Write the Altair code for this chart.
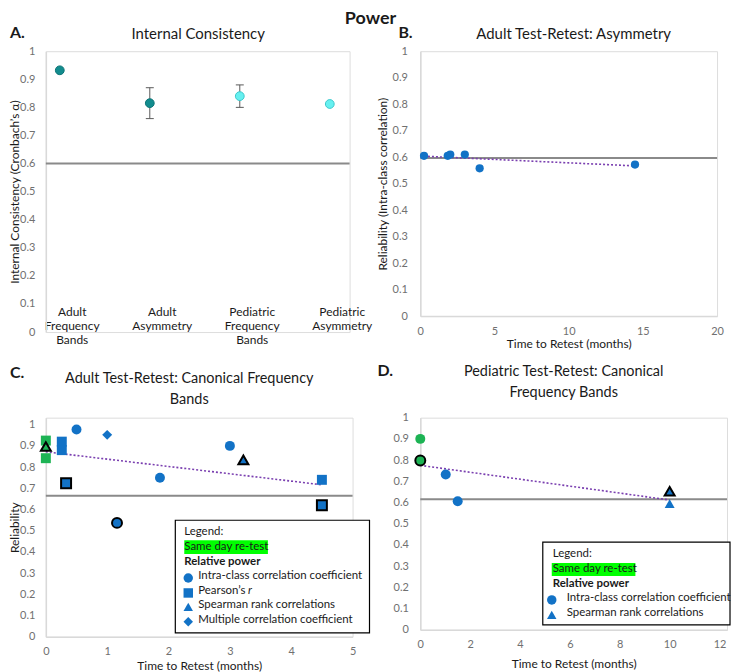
import json
import altair as alt
import pandas as pd

FONT = "Lato"
BLUE = "#1272c6"
GREEN = "#1db354"
TEAL = "#128c8e"
CYAN = "#66f0f0"
PURPLE = "#7a3fb0"
REF_GRAY = "#8a8a8a"
AXIS_GRAY = "#d9d9d9"
TICK_GRAY = "#707070"
TEXT = "#1a1a1a"
HILITE = "#00ff00"

# ---------------- data ----------------
# A. Internal consistency
ic_categories = ["Adult Frequency Bands", "Adult Asymmetry",
                 "Pediatric Frequency Bands", "Pediatric Asymmetry"]
ic_alpha = [0.932, 0.815, 0.840, 0.812]
ic_err_low = [None, 0.760, 0.800, None]
ic_err_high = [None, 0.870, 0.880, None]
ic_population = ["Adult", "Adult", "Pediatric", "Pediatric"]
ic_threshold = 0.6

# B. Adult test-retest: asymmetry
asym_months = [0.25, 1.85, 2.02, 3.0, 4.0, 14.47]
asym_icc = [0.605, 0.605, 0.61, 0.61, 0.558, 0.572]
asym_threshold = 0.597

# C. Adult test-retest: canonical frequency bands
adult_months = [0, 0, 0, 0.26, 0.26, 0.5, 1.0, 3.0, 1.86, 3.22, 0.33, 4.5, 4.5, 1.16]
adult_rel = [0.925, 0.842, 0.897, 0.92, 0.88, 0.977, 0.952, 0.90, 0.75, 0.834,
             0.724, 0.74, 0.62, 0.537]
adult_stat = ["Pearson", "Pearson", "Spearman", "Pearson", "Pearson", "ICC", "Multiple",
              "ICC", "ICC", "Spearman", "Pearson", "Pearson", "Pearson", "ICC"]
adult_same_day = [True, True, True, False, False, False, False, False, False, False,
                  False, False, False, False]
adult_outlined = [False, False, True, False, False, False, False, False, False, True,
                  True, False, True, True]
adult_threshold = 0.665

# D. Pediatric test-retest: canonical frequency bands
ped_months = [0, 0, 1.02, 1.5, 10, 10]
ped_rel = [0.90, 0.798, 0.732, 0.606, 0.653, 0.595]
ped_stat = ["ICC", "ICC", "ICC", "ICC", "Spearman", "Spearman"]
ped_same_day = [True, True, False, False, False, False]
ped_outlined = [False, True, False, False, True, False]
ped_threshold = 0.616

stat_names = ["ICC", "Pearson", "Spearman", "Multiple"]
stat_shapes = ["circle", "square", "triangle-up", "diamond"]
stat_labels = ["Intra-class correlation coefficient", "Pearson’s r",
               "Spearman rank correlations", "Multiple correlation coefficient"]

YVALS = [round(i / 10, 1) for i in range(11)]


# ---------------- helpers ----------------
def one():
    return pd.DataFrame({"k": [0]})


def txt(s, x, y, size=12, weight="normal", align="left", baseline="middle",
        style="normal", color=TEXT):
    return alt.Chart(pd.DataFrame({"t": [s]})).mark_text(
        fontSize=size, fontWeight=weight, align=align, baseline=baseline,
        fontStyle=style, color=color, font=FONT
    ).encode(x=alt.value(x), y=alt.value(y), text="t:N")


def rect(x, x2, y, y2, fill, stroke="transparent", sw=0):
    return alt.Chart(one()).mark_rect(fill=fill, stroke=stroke, strokeWidth=sw, opacity=1).encode(
        x=alt.value(x), x2=alt.value(x2), y=alt.value(y), y2=alt.value(y2))


def symbol(shape, x, y, size=90):
    return alt.Chart(one()).mark_point(shape=shape, filled=True, fill=BLUE, opacity=1,
                                       size=size, strokeWidth=0).encode(
        x=alt.value(x), y=alt.value(y))


def yaxis(title, label_pad, title_pad):
    return alt.Axis(values=YVALS, tickCount=len(YVALS), format="~g", title=title,
                    labelPadding=label_pad,
                    titlePadding=title_pad, domainColor=AXIS_GRAY, domainWidth=1.5,
                    ticks=False, grid=False, labelColor=TICK_GRAY, labelFontSize=11,
                    labelFont=FONT, titleFont=FONT, titleFontSize=12,
                    titleFontWeight="normal", titleColor=TEXT, labelOverlap=False)


def xaxis(values, title, label_pad, title_pad):
    return alt.Axis(values=values, tickCount=len(values), format="~g", title=title,
                    labelPadding=label_pad,
                    titlePadding=title_pad, domainColor=AXIS_GRAY, domainWidth=1.5,
                    ticks=False, grid=False, labelColor=TICK_GRAY, labelFontSize=11,
                    labelFont=FONT, titleFont=FONT, titleFontSize=12,
                    titleFontWeight="normal", titleColor=TEXT, labelFlush=False,
                    labelOverlap=False)


def ref_rule(value, field, W):
    return alt.Chart(pd.DataFrame({field: [value]})).mark_rule(
        color=REF_GRAY, strokeWidth=2).encode(
        y=f"{field}:Q", x=alt.value(0), x2=alt.value(W))


def trend(df, xf, yf):
    return alt.Chart(df).transform_regression(xf, yf).mark_line(
        color=PURPLE, strokeDash=[2, 2], strokeWidth=1.6).encode(
        x=f"{xf}:Q", y=f"{yf}:Q")


def markers(df, xenc, yenc, size):
    enc = dict(
        x=xenc, y=yenc,
        shape=alt.Shape("shape:N", scale=None, legend=None),
        fill=alt.Fill("fillc:N", scale=None, legend=None),
    )
    plain = alt.Chart(df).transform_filter("!datum.outlined").mark_point(
        filled=True, opacity=1, size=size, strokeWidth=0).encode(**enc)
    outl = alt.Chart(df).transform_filter("datum.outlined").mark_point(
        filled=True, opacity=1, size=size, stroke="black", strokeWidth=2).encode(**enc)
    return [plain, outl]


def point_frame(months, rel, stats, same_day, outlined):
    return pd.DataFrame({
        "months": months, "rel": rel, "stat": stats,
        "shape": [stat_shapes[stat_names.index(s)] for s in stats],
        "fillc": [GREEN if s else BLUE for s in same_day],
        "outlined": outlined})


# ---------------- Panel A ----------------
WA, HA = 305, 282
dfA = pd.DataFrame({"idx": [1, 2, 3, 4], "cat": ic_categories, "alpha": ic_alpha,
                    "lo": ic_err_low, "hi": ic_err_high, "pop": ic_population})
dfA["fillc"] = [TEAL if p == "Adult" else CYAN for p in ic_population]
dfA["strokec"] = ["#0d7476" if p == "Adult" else "#3cc8cc" for p in ic_population]
labelExprA = "split(" + json.dumps(ic_categories) + "[datum.value - 1], ' ')"
xA = alt.X("idx:Q", scale=alt.Scale(domain=[0.845, 4.22], nice=False, zero=False),
           axis=alt.Axis(values=[1, 2, 3, 4], tickCount=4, labelExpr=labelExprA,
                         domain=False, ticks=False, tickSize=0, grid=False,
                         labelPadding=-26, labelOffset=12, labelColor=TEXT,
                         labelFontSize=12, labelFont=FONT, labelLineHeight=14.5,
                         labelFlush=False, labelOverlap=False, labelBound=False,
                         title=None))
yA = alt.Y("alpha:Q", scale=alt.Scale(domain=[0, 1], nice=False),
           axis=yaxis("Internal Consistency (Cronbach’s α)", 11, -2))

ptsA = alt.Chart(dfA).mark_point(filled=True, opacity=1, size=78, strokeWidth=1).encode(
    x=xA, y=yA,
    fill=alt.Fill("fillc:N", scale=None, legend=None),
    stroke=alt.Stroke("strokec:N", scale=None, legend=None))
errA = alt.Chart(dfA).transform_filter("isValid(datum.lo)").mark_rule(
    color="#5a5a5a", strokeWidth=1).encode(x="idx:Q", y="lo:Q", y2="hi:Q")
capLoA = alt.Chart(dfA).transform_filter("isValid(datum.lo)").mark_tick(
    orient="horizontal", size=8, thickness=1, color="#5a5a5a", opacity=1).encode(
    x="idx:Q", y="lo:Q")
capHiA = alt.Chart(dfA).transform_filter("isValid(datum.hi)").mark_tick(
    orient="horizontal", size=8, thickness=1, color="#5a5a5a", opacity=1).encode(
    x="idx:Q", y="hi:Q")

panelA = alt.layer(
    ref_rule(ic_threshold, "alpha", WA), errA, capLoA, capHiA, ptsA,
    txt("A.", -36, -18, size=16, weight="bold"),
    txt("Internal Consistency", 153, -17, size=15, align="center"),
).properties(width=WA, height=HA)

# ---------------- Panel B ----------------
WB, HB = 298, 266
dfB = pd.DataFrame({"months": asym_months, "rel": asym_icc})
xB = alt.X("months:Q", scale=alt.Scale(domain=[0, 20], nice=False),
           axis=xaxis([0, 5, 10, 15, 20], "Time to Retest (months)", 9, 3))
yB = alt.Y("rel:Q", scale=alt.Scale(domain=[0, 1], nice=False),
           axis=yaxis("Reliability (Intra-class correlation)", 13, 3))
ptsB = alt.Chart(dfB).mark_point(filled=True, opacity=1, size=68, color=BLUE,
                                 strokeWidth=0).encode(x=xB, y=yB)
panelB = alt.layer(
    ref_rule(asym_threshold, "rel", WB), trend(dfB, "months", "rel"), ptsB,
    txt("B.", -22, -18, size=16, weight="bold"),
    txt("Adult Test-Retest: Asymmetry", 154, -17, size=15, align="center"),
    txt("Power", -50, -41, size=18, weight="bold", align="center", baseline="top"),
).properties(width=WB, height=HB)

# ---------------- Panel C ----------------
WC, HC = 308, 220
dfC = point_frame(adult_months, adult_rel, adult_stat, adult_same_day, adult_outlined)
xC = alt.X("months:Q", scale=alt.Scale(domain=[0, 5], nice=False),
           axis=xaxis([0, 1, 2, 3, 4, 5], "Time to Retest (months)", 9, 4))
yC = alt.Y("rel:Q", scale=alt.Scale(domain=[0, 1.033], nice=False),
           axis=yaxis("Reliability", 11, -2))


def legend_items(x_sym, x_txt, ys, stats, labels):
    out = []
    for st, lab, y in zip(stats, labels, ys):
        shape = stat_shapes[stat_names.index(st)]
        out.append(symbol(shape, x_sym, y + 2))
        if lab.endswith(" r"):
            out.append(txt(lab[:-2], x_txt, y, size=11.5))
            out.append(txt("r", x_txt + 50, y, size=11.5, style="italic"))
        else:
            out.append(txt(lab, x_txt, y, size=11.5))
    return out


legendC = [
    rect(130, 325, 103, 216, "white", "black", 1.2),
    rect(139, 223, 123, 137, HILITE),
    txt("Legend:", 139, 115, size=11.5),
    txt("Same day re-test", 139, 130, size=11.5),
    txt("Relative power", 139, 145, size=11.5, weight="bold"),
] + legend_items(143, 153, [159, 174, 188, 203], stat_names, stat_labels)

panelC = alt.layer(
    ref_rule(adult_threshold, "rel", WC), trend(dfC, "months", "rel"),
    *markers(dfC, xC, yC, 100),
    *legendC,
    txt("C.", -36, -45, size=16, weight="bold"),
    txt("Adult Test-Retest: Canonical Frequency", 144, -39, size=14.5, align="center"),
    txt("Bands", 144, -18, size=14.5, align="center"),
).properties(width=WC, height=HC)

# ---------------- Panel D ----------------
WD, HD = 308, 213
dfD = point_frame(ped_months, ped_rel, ped_stat, ped_same_day, ped_outlined)
xD = alt.X("months:Q", scale=alt.Scale(domain=[0, 12.3], nice=False),
           axis=xaxis([0, 2, 4, 6, 8, 10, 12], "Time to Retest (months)", 9, 9))
yD = alt.Y("rel:Q", scale=alt.Scale(domain=[0, 1], nice=False),
           axis=yaxis(None, 12, 0))

ped_stats_used = ["ICC", "Spearman"]
legendD = [
    rect(123, 311, 125, 208, "white", "black", 1.2),
    rect(132, 216, 146, 159, HILITE),
    txt("Legend:", 133, 137, size=11.5),
    txt("Same day re-test", 133, 152, size=11.5),
    txt("Relative power", 133, 167, size=11.5, weight="bold"),
] + legend_items(132, 147, [181, 196], ped_stats_used,
                 [stat_labels[stat_names.index(s)] for s in ped_stats_used])

panelD = alt.layer(
    ref_rule(ped_threshold, "rel", WD), trend(dfD, "months", "rel"),
    *markers(dfD, xD, yD, 100),
    *legendD,
    txt("D.", -43, -47, size=16, weight="bold"),
    txt("Pediatric Test-Retest: Canonical", 144, -46, size=14.5, align="center"),
    txt("Frequency Bands", 144, -25, size=14.5, align="center"),
).properties(width=WD, height=HD)

chart = alt.concat(
    panelA, panelB, panelC, panelD, columns=2,
    spacing={"row": 86, "column": 68}, bounds="flush", align="all",
).properties(
    padding={"left": 0, "top": 0, "right": 0, "bottom": 0}
).configure_view(stroke=None).configure(font=FONT)

chart.save("out.html", embed_options={"renderer": "svg", "actions": False})
